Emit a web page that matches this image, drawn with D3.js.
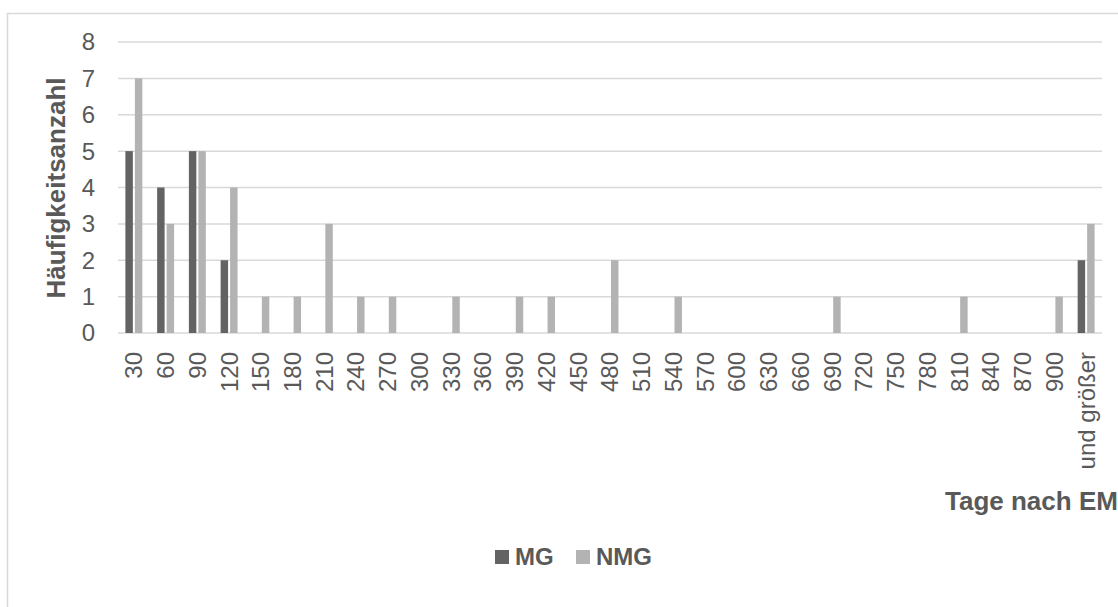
<!DOCTYPE html>
<html>
<head>
<meta charset="utf-8">
<style>
  body { margin: 0; background: #fff; }
  svg { display: block; font-family: "Liberation Sans", Arial, sans-serif; }
</style>
</head>
<body>
<script src="https://d3js.org/d3.v7.min.js"></script>
<svg width="1118" height="607"></svg>
<script>
const categories = ["30","60","90","120","150","180","210","240","270","300","330","360","390","420","450","480","510","540","570","600","630","660","690","720","750","780","810","840","870","900","und größer"]
const mgValues  = [5,4,5,2,0,0,0,0,0,0,0,0,0,0,0,0,0,0,0,0,0,0,0,0,0,0,0,0,0,0,2]
const nmgValues = [7,3,5,4,1,1,3,1,1,0,1,0,1,1,0,2,0,1,0,0,0,0,1,0,0,0,1,0,0,1,3]
const seriesNames = ["MG","NMG"]
const yTicks = [0,1,2,3,4,5,6,7,8]

const dark = "#636363", light = "#b3b3b3", textColor = "#595959", gridColor = "#d9d9d9"

const svg = d3.select("svg")

// chart border (runs off the right and bottom edge)
svg.append("rect")
    .attr("x", 7.5).attr("y", 13.5)
    .attr("width", 1130).attr("height", 620)
    .attr("fill", "none")
    .attr("stroke", gridColor)
    .attr("stroke-width", 1.5)

const xScale = d3.scaleBand().domain(categories).range([118, 1102]).padding(0)
const xInner = d3.scaleBand().domain(seriesNames).range([0, xScale.bandwidth()])
    .paddingInner(0.213).paddingOuter(0.78)
const yScale = d3.scaleLinear().domain([0, 8]).range([333, 42])

// gridlines
svg.append("g").selectAll("line")
    .data(yTicks)
    .enter()
    .append("line")
    .attr("x1", 118).attr("x2", 1102)
    .attr("y1", d => yScale(d)).attr("y2", d => yScale(d))
    .attr("stroke", gridColor)
    .attr("stroke-width", 1.5)

// y tick labels
svg.append("g").selectAll("text")
    .data(yTicks)
    .enter()
    .append("text")
    .attr("x", 95)
    .attr("y", d => yScale(d))
    .attr("dy", "0.35em")
    .attr("text-anchor", "end")
    .attr("font-size", 24)
    .attr("fill", textColor)
    .text(d => d)

const data = categories.map((c, i) => ({cat: c, MG: mgValues[i], NMG: nmgValues[i]}))

const groups = svg.append("g").selectAll("g")
    .data(data)
    .enter()
    .append("g")
    .attr("transform", d => "translate(" + xScale(d.cat) + ",0)")

groups.selectAll("rect")
    .data(d => seriesNames.map(s => ({s: s, v: d[s]})))
    .enter()
    .filter(d => d.v > 0)
    .append("rect")
    .attr("x", d => xInner(d.s))
    .attr("width", xInner.bandwidth())
    .attr("y", d => yScale(d.v))
    .attr("height", d => yScale(0) - yScale(d.v))
    .attr("fill", d => d.s == "MG" ? dark : light)

// x tick labels, rotated
svg.append("g").selectAll("text")
    .data(categories)
    .enter()
    .append("text")
    .attr("transform", d => "translate(" + (xScale(d) + xScale.bandwidth() / 2) + ",352) rotate(-90)")
    .attr("dy", "0.35em")
    .attr("text-anchor", "end")
    .attr("font-size", 24)
    .attr("fill", textColor)
    .text(d => d)

// axis titles
svg.append("text")
    .attr("transform", "translate(65,188) rotate(-90)")
    .attr("text-anchor", "middle")
    .attr("font-size", 26)
    .attr("font-weight", "bold")
    .attr("fill", textColor)
    .text("Häufigkeitsanzahl")

svg.append("text")
    .attr("x", 945).attr("y", 510)
    .attr("font-size", 26)
    .attr("font-weight", "bold")
    .attr("fill", textColor)
    .text("Tage nach EM")

// legend
const legend = svg.append("g")
const legendX = [495, 576]
seriesNames.forEach((s, i) => {
    legend.append("rect")
        .attr("x", legendX[i]).attr("y", 550)
        .attr("width", 14).attr("height", 14)
        .attr("fill", s == "MG" ? dark : light)
    legend.append("text")
        .attr("x", legendX[i] + 20).attr("y", 565)
        .attr("font-size", 24)
        .attr("font-weight", "bold")
        .attr("fill", textColor)
        .text(s)
})
</script>
</body>
</html>
